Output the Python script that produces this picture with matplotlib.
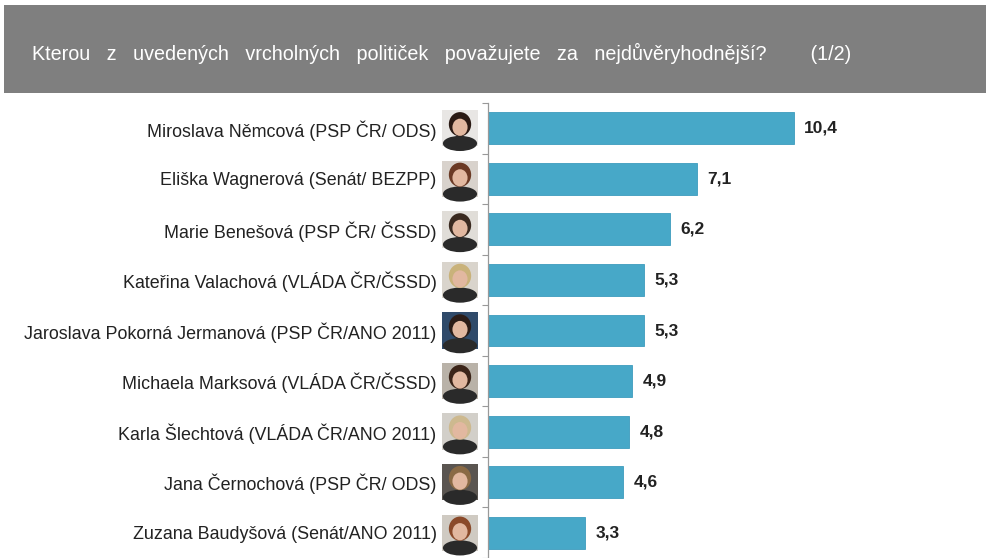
import numpy as np
import matplotlib
matplotlib.use("Agg")
import matplotlib.pyplot as plt
from matplotlib.patches import Rectangle, Ellipse
from matplotlib.transforms import blended_transform_factory

plt.rcParams['font.family'] = ['Liberation Sans', 'DejaVu Sans']

names = [
    "Miroslava Němcová (PSP ČR/ ODS)",
    "Eliška Wagnerová (Senát/ BEZPP)",
    "Marie Benešová (PSP ČR/ ČSSD)",
    "Kateřina Valachová (VLÁDA ČR/ČSSD)",
    "Jaroslava Pokorná Jermanová (PSP ČR/ANO 2011)",
    "Michaela Marksová (VLÁDA ČR/ČSSD)",
    "Karla Šlechtová (VLÁDA ČR/ANO 2011)",
    "Jana Černochová (PSP ČR/ ODS)",
    "Zuzana Baudyšová (Senát/ANO 2011)",
]
values = [10.4, 7.1, 6.2, 5.3, 5.3, 4.9, 4.8, 4.6, 3.3]
value_labels = ["10,4", "7,1", "6,2", "5,3", "5,3", "4,9", "4,8", "4,6", "3,3"]
title_words = ["Kterou", "z", "uvedených", "vrcholných", "političek",
               "považujete", "za", "nejdůvěryhodnější?"]
title = "   ".join(title_words) + " " * 8 + "(1/2)"

# rough thumbnail colours (hair, background) standing in for the portraits
hair = ["#2a1a14", "#6b3a25", "#3a2a20", "#c9b27a", "#2b1d18", "#3b2418", "#cdb98f", "#8a6a45", "#8a4a2a"]
bg = ["#e8e6e4", "#d8d2cc", "#e0ddd8", "#d9d4cc", "#2f4a6a", "#b9b2a8", "#d2cfc9", "#5a5550", "#cfcac2"]

W, H = 991, 558
fig = plt.figure(figsize=(W / 100, H / 100), dpi=100)

# header banner
fig.patches.append(Rectangle((4 / W, 1 - 93 / H), (986 - 4) / W, (93 - 5) / H,
                             transform=fig.transFigure, facecolor="#7f7f7f",
                             edgecolor="none", zorder=0))
fig.text(32 / W, 1 - 53 / H, title, color="white", fontsize=14.2,
         ha="left", va="center")

ax = fig.add_axes([488 / W, 0, (980 - 488) / W, (H - 103) / H])
y = np.arange(len(names))
ax.barh(y, values, height=0.63, color="#47a8c8", edgecolor="#3d9cbd", linewidth=0.6)
ax.set_ylim(len(names) - 0.5, -0.5)
ax.set_xlim(0, (980 - 488) / 29.4)

ax.set_yticks(y)
ax.set_yticklabels(names, fontsize=12.9, color="#222222")
ax.tick_params(axis="y", which="major", length=0, pad=37)
ax.set_yticks(np.arange(len(names) + 1) - 0.5, minor=True)
ax.tick_params(axis="y", which="minor", length=4, color="#999999", width=0.8)
ax.set_xticks([])
for s in ["top", "right", "bottom"]:
    ax.spines[s].set_visible(False)
ax.spines["left"].set_color("#999999")
ax.spines["left"].set_linewidth(0.9)

for yi, v, lab in zip(y, values, value_labels):
    ax.text(v + 0.35, yi, lab, va="center", ha="left", fontsize=12.5,
            fontweight="bold", color="#222222")

# portrait placeholders
tr = blended_transform_factory(ax.transAxes, ax.transData)
x0, x1 = (442 - 488) / (980 - 488), (478 - 488) / (980 - 488)
for yi, hc, bc in zip(y, hair, bg):
    ax.add_patch(Rectangle((x0, yi - 0.36), x1 - x0, 0.72, transform=tr,
                           facecolor=bc, edgecolor="none", clip_on=False))
    xc = (x0 + x1) / 2
    ax.add_patch(Ellipse((xc, yi + 0.3), (x1 - x0) * 0.95, 0.3, transform=tr,
                         facecolor="#2a2a2a", edgecolor="none", clip_on=False))
    ax.add_patch(Ellipse((xc, yi - 0.08), (x1 - x0) * 0.62, 0.48, transform=tr,
                         facecolor=hc, edgecolor="none", clip_on=False))
    ax.add_patch(Ellipse((xc, yi - 0.02), (x1 - x0) * 0.42, 0.34, transform=tr,
                         facecolor="#e2b8a0", edgecolor="none", clip_on=False))

fig.savefig("out.png", dpi=100)
